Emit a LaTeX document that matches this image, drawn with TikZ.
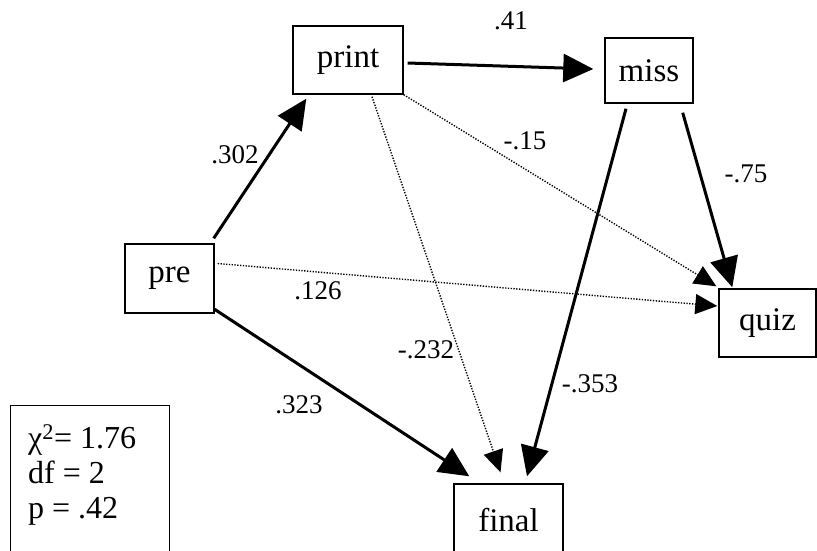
\documentclass[tikz,border=0pt]{standalone}
\usepackage{fontspec}
\setmainfont{Liberation Serif}
\usetikzlibrary{arrows.meta,calc}

\tikzset{
  box/.style={draw, line width=1.4pt, inner sep=0pt, font=\fontsize{33}{35}\selectfont},
  elabel/.style={inner sep=0pt, font=\fontsize{27}{29}\selectfont},
  solidpath/.style={line width=3pt, -{Triangle[length=30pt,width=28pt]}},
  weakpath/.style={line width=1.4pt, dash pattern=on 1.3pt off 1.5pt,
                   -{Triangle[length=22pt,width=20pt]}},
}

\begin{document}
\begin{tikzpicture}[x=1pt,y=-1pt]
\useasboundingbox (0,0) rectangle (817,550);
\clip (0,0) rectangle (817,550);

% variables
\node[box, minimum width=110pt, minimum height=68pt] (print) at (348,60) {print};
\node[box, minimum width=88pt,  minimum height=65pt] (miss)  at (649,70.5) {miss};
\node[box, minimum width=89pt,  minimum height=69pt] (pre)   at (169.5,278.5) {pre};
\node[box, minimum width=97pt,  minimum height=68pt] (quiz)  at (767.5,323) {quiz};
\node[box, minimum width=109pt, minimum height=72pt] (final) at (508.5,520) {final};

% fit statistics
\node[draw, line width=1.4pt, minimum width=159pt, minimum height=160pt,
      anchor=north west, inner sep=0pt] (stats) at (10,405) {};
\node[anchor=north west, align=left, inner sep=0pt,
      font=\fontsize{32}{35}\selectfont] (fit) at ($(stats.north west)+(18,19)$)
  {χ\textsuperscript{2}= 1.76\\df = 2\\p = .42};

% paths
\draw[solidpath] ($(pre.north east)+(-1,-5)$) -- ($(print.south west)+(14,4)$);
\draw[solidpath] ($(print.east)+(4,3)$) -- ($(miss.west)+(-11,-1.5)$);
\draw[solidpath] ($(pre.south east)+(-1,-5)$) -- ($(final.north west)+(16,-7)$);
\draw[solidpath] ($(miss.south)+(-23,5)$) -- ($(final.north)+(18.5,-7)$);
\draw[solidpath] ($(miss.south east)+(-11,9)$) -- ($(quiz.north west)+(14,-1)$);
\draw[weakpath] (print.south east) -- ($(quiz.north west)+(-2,-2)$);
\draw[weakpath] ($(print.south)+(24,2)$) -- ($(final.north)+(-8,-11)$);
\draw[weakpath] ($(pre.east)+(3,-15)$) -- ($(quiz.west)+(-1,-17)$);

% coefficients
\node[elabel] (c302) at (235,155) {.302};
\node[elabel] (c41)  at (511,21)  {.41};
\node[elabel] (c15)  at (525,141) {-.15};
\node[elabel] (c75)  at (746,174) {-.75};
\node[elabel] (c126) at (318,291) {.126};
\node[elabel] (c232) at (426,350) {-.232};
\node[elabel] (c323) at (299,405) {.323};
\node[elabel] (c353) at (590,384) {-.353};
\end{tikzpicture}
\end{document}
